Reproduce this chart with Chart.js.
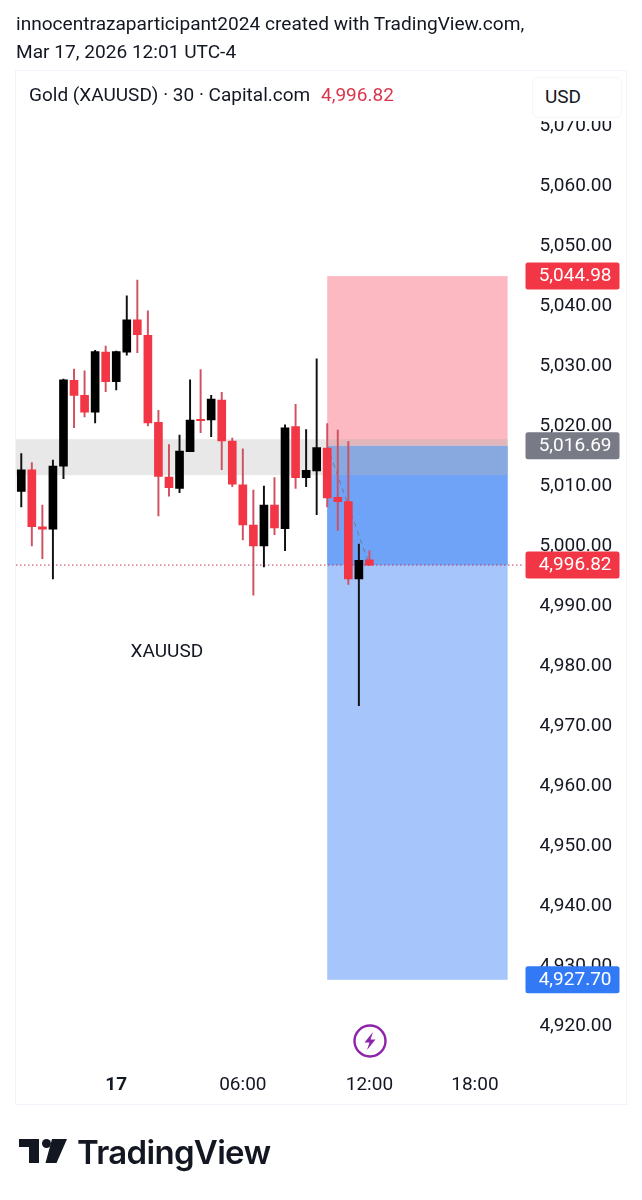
<!DOCTYPE html>
<html>
<head>
<meta charset="utf-8">
<title>Gold (XAUUSD)</title>
<script src="https://cdn.jsdelivr.net/npm/chart.js@4"></script>
<style>
  html, body { margin: 0; padding: 0; background: #fff; width: 642px; height: 1200px; overflow: hidden; }
  body { font-family: Roboto, sans-serif; color: #131722; position: relative; }
  #chart { position: absolute; left: 0; top: 0; }
  .abs { position: absolute; white-space: nowrap; }
  #frame { position: absolute; left: 15px; top: 70px; width: 610px; height: 1033px; border: 1px solid #f0f3fa; pointer-events: none; }
  #legendBg { position: absolute; left: 16px; top: 71px; width: 609px; height: 50px; background: #fff; }
  #usd { position: absolute; left: 532px; top: 77px; width: 88px; height: 39px; border: 1px solid #f4f6fb; border-radius: 6px; background: #fff; font-size: 19px; line-height: 37px; text-indent: 12px; }
</style>
</head>
<body>
<canvas id="chart" width="642" height="1200"></canvas>
<div id="frame"></div>
<div id="legendBg"></div>
<div class="abs" style="left:16px;top:10px;font-size:19.1px;line-height:28px">innocentrazaparticipant2024 created with TradingView.com,</div>
<div class="abs" style="left:16px;top:38px;font-size:19.1px;line-height:28px">Mar 17, 2026 12:01 UTC-4</div>
<div class="abs" style="left:29px;top:81px;font-size:19px;line-height:28px">Gold (XAUUSD) · 30 · Capital.com</div>
<div class="abs" style="left:321px;top:81px;font-size:19px;line-height:28px;color:#d9374d">4,996.82</div>
<div id="usd">USD</div>
<svg class="abs" style="left:352px;top:1023px" width="36" height="36" viewBox="0 0 36 36">
  <circle cx="18" cy="18" r="15.5" fill="none" stroke="#8e24aa" stroke-width="2.4"/>
  <path d="M21 9 L12.5 19.5 H17.5 L15 27 L23.5 16.5 H18.5 Z" fill="#8e24aa"/>
</svg>
<svg class="abs" style="left:19px;top:1139px" width="50" height="25" viewBox="0 0 50 25">
  <path d="M0 0 H20 V24 H10 V8 H0 Z" fill="#131722"/>
  <circle cx="27.5" cy="4.5" r="4.5" fill="#131722"/>
  <path d="M33 0 H48 L37.5 24 H26.5 Z" fill="#131722"/>
</svg>
<div class="abs" style="left:77px;top:1130px;font-family:Inter,sans-serif;font-weight:600;font-size:33px;line-height:44px;letter-spacing:-0.7px;color:#131722">TradingView</div>

<script>
// 30 min candles
const opens  = [5009.1,5012.7,5003.2,5002.8,5013.3,5027.6,5025.1,5022.3,5032.3,5027.4,5032.3,5037.7,5035.1,5020.6,5011.5,5009.6,5015.7,5021.1,5021.0,5024.3,5017.5,5010.2,5003.5,5000.0,5006.8,5002.9,5019.9,5011.4,5012.5,5016.3,5008.1,5007.4,4994.5,4997.7];
const highs  = [5015.4,5013.9,5006.8,5014.3,5027.8,5029.5,5029.2,5032.6,5033.3,5032.5,5041.7,5044.3,5039.2,5022.6,5016.9,5018.5,5027.7,5029.4,5025.1,5025.6,5018.0,5016.2,5009.3,5010.0,5011.4,5020.2,5023.6,5019.4,5031.2,5020.4,5019.3,5017.4,5000.3,4999.2];
const lows   = [5006.5,5000.0,4997.9,4994.5,5011.2,5019.7,5021.5,5020.5,5025.7,5026.0,5031.8,5032.2,5020.0,5005.0,5008.3,5008.9,5015.7,5018.9,5018.2,5012.7,5009.9,5001.0,4991.8,4996.5,5001.9,4999.2,5009.6,5009.9,5005.2,5006.5,5002.6,4993.6,4973.4,4996.7];
const closes = [5012.7,5003.2,5002.8,5013.3,5027.7,5025.1,5022.3,5032.4,5027.4,5032.4,5037.7,5035.2,5020.5,5011.6,5009.7,5015.8,5021.0,5020.9,5024.5,5017.5,5010.3,5003.5,5000.0,5006.8,5003.0,5019.7,5011.4,5012.6,5016.4,5008.0,5007.4,4994.5,4997.6,4996.82];

const slotCount = 48;
const timeTicks = { 9: '17', 21: '06:00', 33: '12:00', 43: '18:00' };
const priceTicks = [5070,5060,5050,5040,5030,5020,5010,5000,4990,4980,4970,4960,4950,4940,4930,4920];

const lastPrice = 4996.82;
const stopPrice = 5044.98;
const entryPrice = 5016.69;
const targetPrice = 4927.70;
const bandTop = 5017.8;
const bandBottom = 5011.8;
const positionStart = 29;
const positionEnd = 46.1;

const RED = '#f23645';
const BLACK = '#000000';
const fontFamily = 'Roboto, sans-serif';

const labels = Array.from({ length: slotCount }, (_, i) => timeTicks[i] || '');
const candleColors = opens.map((o, i) => closes[i] >= o ? BLACK : RED);
const wickColors = opens.map((o, i) => closes[i] >= o ? '#111111' : '#cf5263');
const fmt = v => v.toLocaleString('en-US', { minimumFractionDigits: 2, maximumFractionDigits: 2 });

// zones go behind the candles, price tags on top of the axis
const overlays = {
  id: 'overlays',
  beforeDatasetsDraw(chart) {
    const { ctx, chartArea: a, scales: { x, y } } = chart;
    const left = x.getPixelForValue(positionStart);
    const right = x.getPixelForValue(positionEnd);
    const box = (x0, x1, top, bottom, color) => {
      ctx.fillStyle = color;
      ctx.fillRect(x0, y.getPixelForValue(top), x1 - x0, y.getPixelForValue(bottom) - y.getPixelForValue(top));
    };
    ctx.save();
    box(a.left, left, bandTop, bandBottom, '#e8e8e8');
    box(left, right, stopPrice, entryPrice, '#fcb9c1');
    box(left, right, entryPrice, targetPrice, '#a5c5fb');
    box(left, right, entryPrice, lastPrice, '#6fa3f8');
    box(left, right, bandTop, bandBottom, 'rgba(180,180,180,0.36)');
    // last price line
    ctx.strokeStyle = '#c8344e';
    ctx.setLineDash([1.5, 2.5]);
    ctx.lineWidth = 1;
    ctx.beginPath();
    ctx.moveTo(a.left, y.getPixelForValue(lastPrice));
    ctx.lineTo(a.right, y.getPixelForValue(lastPrice));
    ctx.stroke();
    ctx.restore();
  },
  afterDraw(chart) {
    const { ctx, scales: { x, y } } = chart;
    ctx.save();
    ctx.font = '19px ' + fontFamily;
    ctx.fillStyle = '#131722';
    ctx.textAlign = 'center';
    ctx.textBaseline = 'middle';
    ctx.fillText('XAUUSD', x.getPixelForValue(13.8), y.getPixelForValue(4982.3));
    const tag = (value, color) => {
      const py = y.getPixelForValue(value);
      ctx.fillStyle = color;
      ctx.beginPath();
      ctx.roundRect(525.5, py - 13.5, 94, 27, 2.5);
      ctx.fill();
      ctx.fillStyle = '#ffffff';
      ctx.textAlign = 'right';
      ctx.font = '19px ' + fontFamily;
      ctx.fillText(fmt(value), 611.5, py);
    };
    tag(stopPrice, RED);
    tag(entryPrice, '#787b86');
    tag(lastPrice, RED);
    tag(targetPrice, '#3179f5');
    ctx.restore();
  }
};

new Chart(document.getElementById('chart'), {
  type: 'bar',
  plugins: [overlays],
  data: {
    labels: labels,
    datasets: [
      {
        type: 'line',
        data: labels.map((_, i) => i === positionStart ? entryPrice : i === 33 ? lastPrice : null),
        spanGaps: true,
        borderColor: 'rgba(110,110,120,0.75)',
        borderWidth: 1,
        borderDash: [5, 4],
        pointRadius: 0,
        order: 2
      },
      {
        data: opens.map((o, i) => [o, closes[i]]),
        backgroundColor: candleColors,
        barThickness: 8,
        grouped: false,
        order: 0
      },
      {
        data: lows.map((l, i) => [l, highs[i]]),
        backgroundColor: wickColors,
        barThickness: 1.3,
        grouped: false,
        order: 1
      }
    ]
  },
  options: {
    responsive: false,
    animation: false,
    layout: { padding: { left: 16, top: 72, right: 0, bottom: 0 } },
    plugins: { legend: { display: false }, tooltip: { enabled: false } },
    scales: {
      x: {
        offset: true,
        grid: { display: false, drawTicks: false },
        border: { display: false },
        afterFit(scale) { scale.height = 140; },
        ticks: {
          autoSkip: false,
          maxRotation: 0,
          padding: 14,
          color: '#131722',
          font: ctx => ({
            family: fontFamily,
            size: 19,
            weight: ctx.tick && ctx.tick.label === '17' ? 'bold' : 'normal'
          })
        }
      },
      y: {
        position: 'right',
        min: 4914.33,
        max: 5079,
        grid: { display: false, drawTicks: false },
        border: { display: false },
        afterFit(scale) { scale.width = 119.6; },
        afterBuildTicks(scale) { scale.ticks = priceTicks.map(v => ({ value: v })); },
        ticks: {
          autoSkip: false,
          crossAlign: 'near',
          padding: 17,
          labelOffset: 0,
          color: '#131722',
          font: { family: fontFamily, size: 19 },
          callback: v => fmt(v)
        }
      }
    }
  }
});
</script>
</body>
</html>
